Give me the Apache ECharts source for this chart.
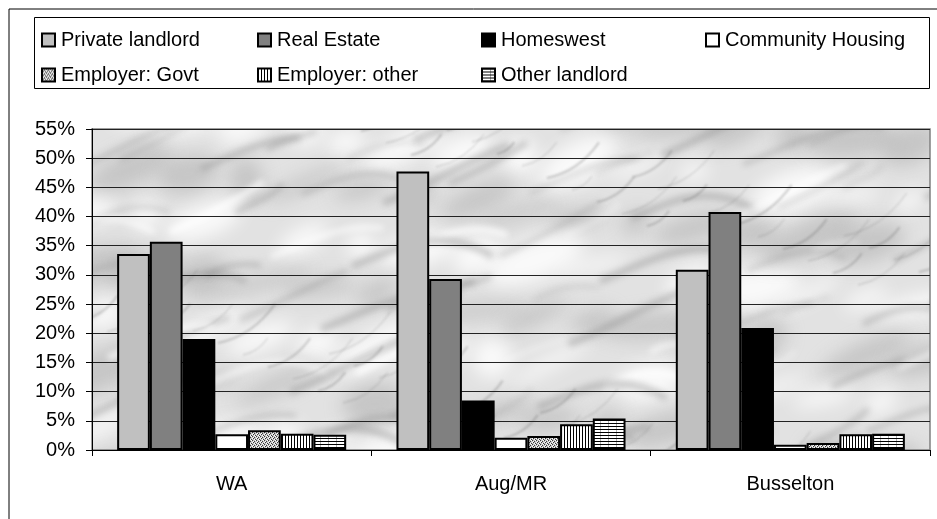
<!DOCTYPE html>
<html>
<head>
<meta charset="utf-8">
<script src="https://cdn.jsdelivr.net/npm/echarts@6/dist/echarts.min.js"></script>
<style>
  html, body { margin: 0; padding: 0; background: #fff; }
  #chart { width: 937px; height: 519px; }
</style>
</head>
<body>
<div id="chart"></div>
<script>
// Regions shown on the category axis
const regions = ['WA', 'Aug/MR', 'Busselton'];

// Share of renters by landlord type (%)
const privateLandlord = [33.6, 47.7, 30.9];
const realEstate      = [35.7, 29.3, 40.8];
const homeswest       = [19.0, 8.5, 20.9];
const communityHousing = [2.7, 2.1, 0.9];
const employerGovt    = [3.4, 2.4, 1.2];
const employerOther   = [2.8, 4.4, 2.7];
const otherLandlord   = [2.6, 5.4, 2.8];

const seriesNames = ['Private landlord', 'Real Estate', 'Homeswest', 'Community Housing',
                     'Employer: Govt', 'Employer: other', 'Other landlord'];

// Y axis range (percent)
const yMax = 55;
const yStep = 5;

// ---- fill patterns ----
function makeCanvas(w, h) {
  const c = document.createElement('canvas');
  c.width = w; c.height = h;
  return c;
}
function stipple() {
  const c = makeCanvas(4, 4), g = c.getContext('2d');
  g.fillStyle = '#c4c4c4'; g.fillRect(0, 0, 4, 4);
  g.fillStyle = '#3a3a3a';
  [[0,0],[2,1],[1,2],[3,3]].forEach(p => g.fillRect(p[0], p[1], 1, 1));
  g.fillStyle = '#ffffff';
  [[2,3],[0,2],[3,0],[1,1]].forEach(p => g.fillRect(p[0], p[1], 1, 1));
  return c;
}
function vStripes() {
  const c = makeCanvas(3, 4), g = c.getContext('2d');
  g.fillStyle = '#ffffff'; g.fillRect(0, 0, 3, 4);
  g.fillStyle = '#000000'; g.fillRect(0, 0, 1, 4);
  return c;
}
function hStripes() {
  const c = makeCanvas(8, 3), g = c.getContext('2d');
  g.fillStyle = '#ffffff'; g.fillRect(0, 0, 8, 3);
  g.fillStyle = '#b0b0b0'; g.fillRect(0, 0, 1, 3);
  g.fillStyle = '#000000'; g.fillRect(0, 0, 8, 1);
  return c;
}
// soft grey marble used as the plot background (one tile covers the whole page)
function marble() {
  const W = 937, H = 519;
  const c = makeCanvas(W, H), g = c.getContext('2d');
  g.fillStyle = '#e2e2e2'; g.fillRect(0, 0, W, H);
  // cloudy patches
  g.filter = 'blur(9px)';
  for (let i = 0; i < 150; i++) {
    const x = (i * 173) % W, y = (i * 71) % H;
    const rx = 14 + (i * 23) % 40, ry = 6 + (i * 11) % 16;
    g.fillStyle = (i % 2 === 0) ? 'rgba(255,255,255,0.8)' : 'rgba(165,165,165,0.45)';
    g.beginPath();
    g.ellipse(x, y, rx, ry, -0.5 + ((i * 5) % 6) * 0.08, 0, Math.PI * 2);
    g.fill();
  }
  // diagonal veins
  g.filter = 'blur(3px)';
  for (let i = 0; i < 120; i++) {
    const x = (i * 151) % W, y = (i * 97) % H;
    const len = 40 + (i * 37) % 110;
    const ang = -0.55 + ((i * 13) % 9) * 0.06;
    g.strokeStyle = (i % 4 === 0) ? 'rgba(255,255,255,0.8)' : 'rgba(135,135,135,0.4)';
    g.lineWidth = 2 + (i * 7) % 6;
    g.beginPath();
    g.moveTo(x, y);
    g.bezierCurveTo(x + len * 0.3, y - len * 0.05 - 8,
                    x + len * 0.6, y - len * 0.35 + 6,
                    x + len * Math.cos(ang), y + len * Math.sin(ang));
    g.stroke();
  }
  g.filter = 'blur(1px)';
  for (let i = 0; i < 90; i++) {
    const x = (i * 211) % W, y = (i * 59) % H;
    const len = 20 + (i * 29) % 60;
    g.strokeStyle = 'rgba(100,100,100,0.3)';
    g.lineWidth = 1 + (i % 2);
    g.beginPath();
    g.moveTo(x, y);
    g.quadraticCurveTo(x + len * 0.5, y - len * 0.1, x + len * Math.cos(-0.6), y + len * Math.sin(-0.6));
    g.stroke();
  }
  g.filter = 'none';
  return c;
}

const fills = [
  '#c0c0c0',
  '#808080',
  '#000000',
  '#ffffff',
  { image: stipple(), repeat: 'repeat' },
  { image: vStripes(), repeat: 'repeat' },
  { image: hStripes(), repeat: 'repeat' }
];
const values = [privateLandlord, realEstate, homeswest, communityHousing,
                employerGovt, employerOther, otherLandlord];

const font = 'Arial, "Liberation Sans", sans-serif';

// legend laid out as a 4-column, 2-row table
const legendCols = [41, 257, 481, 705];
const legendRows = [30, 65];
const legends = seriesNames.map((name, i) => ({
  data: [name],
  left: legendCols[i % 4],
  top: legendRows[Math.floor(i / 4)],
  padding: 0,
  itemWidth: 13,
  itemHeight: 13,
  itemGap: 0,
  selectedMode: false,
  icon: 'rect',
  textStyle: { fontFamily: font, fontSize: 20, color: '#000', padding: [0, 0, 0, 1] }
}));

const chart = echarts.init(document.getElementById('chart'), null, { renderer: 'canvas' });
chart.setOption({
  animation: false,
  backgroundColor: '#ffffff',
  graphic: [
    { type: 'rect', z: -10, shape: { x: 9, y: 9, width: 940, height: 520 },
      style: { fill: 'none', stroke: '#000', lineWidth: 1 } },
    { type: 'rect', z: -10, shape: { x: 34.5, y: 17.5, width: 895, height: 71 },
      style: { fill: 'none', stroke: '#000', lineWidth: 1 } }
  ],
  legend: legends,
  grid: {
    left: 92, right: 7, top: 129, bottom: 69,
    show: true,
    backgroundColor: { image: marble(), repeat: 'no-repeat' },
    borderColor: '#808080',
    borderWidth: 1.5
  },
  xAxis: {
    type: 'category',
    data: regions,
    axisLine: { lineStyle: { color: '#000', width: 1 } },
    axisTick: { show: true, length: 6, lineStyle: { color: '#000' } },
    axisLabel: { fontFamily: font, fontSize: 20, color: '#000', margin: 24 }
  },
  yAxis: {
    type: 'value',
    min: 0,
    max: yMax,
    interval: yStep,
    axisLine: { show: true, lineStyle: { color: '#000', width: 1 } },
    axisTick: { show: true, length: 6, lineStyle: { color: '#000' } },
    axisLabel: { fontFamily: font, fontSize: 20, color: '#000', margin: 17,
                 formatter: '{value}%' },
    splitLine: { lineStyle: { color: '#222', width: 1 } }
  },
  series: seriesNames.map((name, i) => ({
    name,
    type: 'bar',
    data: values[i],
    barGap: '0%',
    barCategoryGap: '18%',
    itemStyle: { color: fills[i], borderColor: '#000', borderWidth: 2 }
  }))
});
</script>
</body>
</html>
